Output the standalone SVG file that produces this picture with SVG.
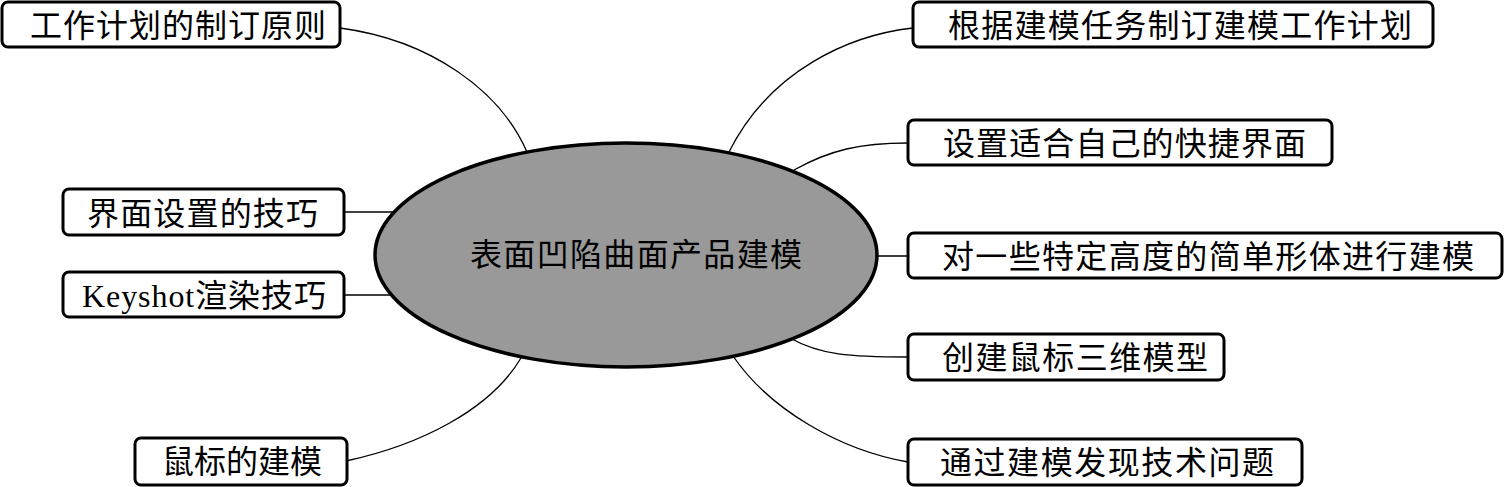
<svg xmlns="http://www.w3.org/2000/svg" width="1504" height="487" viewBox="0 0 1504 487">
<style>
.box{fill:#fff;stroke:#000;stroke-width:3}
.t{font-family:"Liberation Serif","Noto Sans CJK SC",serif;font-size:32px;fill:#000;dominant-baseline:central}
.c{fill:none;stroke:#000;stroke-width:1.3}
</style>
<rect width="1504" height="487" fill="#fff"/>
<g id="connectors">
<path class="c" d="M340,28 C430,40 500,90 527,152"/>
<path class="c" d="M729,152 C770,70 850,35 913,28"/>
<path class="c" d="M794,170 C830,150 860,143 908,143"/>
<path class="c" d="M344,212 L395,212"/>
<path class="c" d="M344,295 L395,295"/>
<path class="c" d="M870,256 L908,256"/>
<path class="c" d="M790,338 C820,355 850,357 908,357"/>
<path class="c" d="M521,358 C490,410 420,445 346,461"/>
<path class="c" d="M733,356 C770,410 840,450 908,462"/>
</g>
<g id="center">
<ellipse cx="626" cy="255" rx="251" ry="112" fill="#999" stroke="#000" stroke-width="3.5"/>
<text class="t" x="470" y="255" textLength="332" lengthAdjust="spacing">表面凹陷曲面产品建模</text>
</g>
<g id="n1"><rect class="box" x="2" y="2" width="338" height="45" rx="6"/><text class="t" x="30" y="26" textLength="296" lengthAdjust="spacing">工作计划的制订原则</text></g>
<g id="n2"><rect class="box" x="913" y="2" width="520" height="45" rx="6"/><text class="t" x="948" y="26" textLength="464" lengthAdjust="spacing">根据建模任务制订建模工作计划</text></g>
<g id="n3"><rect class="box" x="908" y="120" width="424" height="45" rx="6"/><text class="t" x="943" y="144" textLength="363" lengthAdjust="spacing">设置适合自己的快捷界面</text></g>
<g id="n4"><rect class="box" x="63" y="189" width="281" height="46" rx="6"/><text class="t" x="87" y="214" textLength="231" lengthAdjust="spacing">界面设置的技巧</text></g>
<g id="n5"><rect class="box" x="63" y="272" width="281" height="45" rx="6"/><text class="t" x="82" y="296" textLength="244" lengthAdjust="spacing">Keyshot渲染技巧</text></g>
<g id="n6"><rect class="box" x="908" y="233" width="594" height="45" rx="6"/><text class="t" x="942" y="257" textLength="532" lengthAdjust="spacing">对一些特定高度的简单形体进行建模</text></g>
<g id="n7"><rect class="box" x="908" y="334" width="316" height="46" rx="6"/><text class="t" x="942" y="358" textLength="266" lengthAdjust="spacing">创建鼠标三维模型</text></g>
<g id="n8"><rect class="box" x="135" y="438" width="212" height="47" rx="6"/><text class="t" x="162" y="462" textLength="160" lengthAdjust="spacing">鼠标的建模</text></g>
<g id="n9"><rect class="box" x="908" y="439" width="394" height="46" rx="6"/><text class="t" x="940" y="463" textLength="334" lengthAdjust="spacing">通过建模发现技术问题</text></g>
</svg>
